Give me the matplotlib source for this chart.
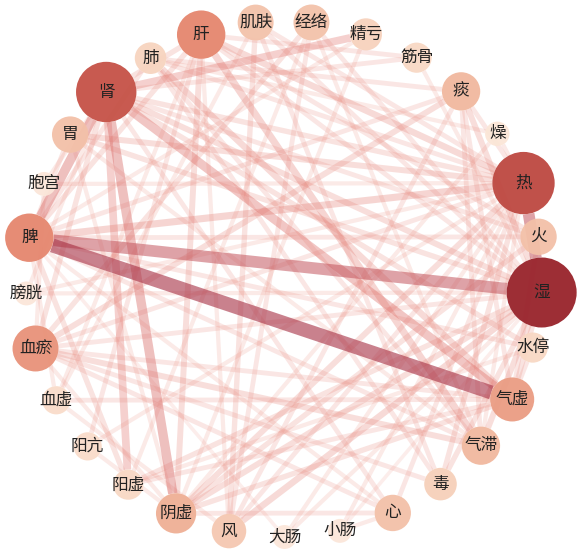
import numpy as np
import matplotlib.pyplot as plt
from matplotlib.patches import Circle
from matplotlib.colors import LinearSegmentedColormap

plt.rcParams['font.family'] = ['Noto Sans CJK SC', 'DejaVu Sans']

# nodes in circle order (clockwise from the right)
nodes = ['湿', '水停', '气虚', '气滞', '毒', '心', '小肠', '大肠', '风', '阴虚',
         '阳虚', '阳亢', '血虚', '血瘀', '膀胱', '脾', '胞宫', '胃', '肾', '肺',
         '肝', '肌肤', '经络', '精亏', '筋骨', '痰', '燥', '热', '火']
freq = [100, 17, 46, 34, 22, 30, 4, 4, 26, 38,
        17, 13, 13, 50, 4, 55, 4, 30, 80, 20,
        55, 29, 29, 21, 17, 34, 5, 84, 30]

# co-occurrence edges (source, target, weight)
edges = [
    ('脾', '气虚', 10), ('脾', '湿', 8), ('热', '湿', 8), ('肾', '阴虚', 6),
    ('肾', '脾', 6), ('肾', '气虚', 5.5), ('肾', '精亏', 4.5), ('肾', '阳虚', 4.5),
    ('脾', '热', 4), ('肝', '气滞', 4), ('风', '湿', 3.5), ('肝', '热', 3.5),
    ('胃', '热', 3), ('肺', '气虚', 3.5), ('肝', '阴虚', 3), ('湿', '气滞', 3),
    ('湿', '阴虚', 3), ('痰', '湿', 3), ('痰', '血瘀', 3), ('血瘀', '气滞', 3),
    ('热', '阴虚', 3), ('湿', '阳虚', 2.5), ('胃', '湿', 2.5), ('肾', '湿', 3),
    ('肾', '热', 2.5), ('肾', '血瘀', 2.5), ('脾', '阳虚', 2.5), ('血瘀', '气虚', 2),
    ('肝', '脾', 2.5), ('肝', '肾', 2.5), ('肺', '脾', 2), ('肺', '热', 2),
    ('肺', '痰', 2), ('痰', '热', 2), ('痰', '脾', 2), ('痰', '气虚', 2),
    ('水停', '脾', 2), ('水停', '肾', 2.5), ('水停', '气虚', 2), ('毒', '热', 2.5),
    ('毒', '湿', 2.5), ('毒', '血瘀', 2), ('毒', '肺', 2), ('心', '肾', 2),
    ('心', '脾', 1.5), ('心', '热', 2), ('心', '血瘀', 2), ('心', '阴虚', 2),
    ('气滞', '脾', 2), ('气滞', '痰', 2), ('气滞', '肺', 2), ('气虚', '阴虚', 2.5),
    ('气虚', '阳虚', 2), ('气虚', '血虚', 2), ('气虚', '火', 2), ('火', '阴虚', 2.5),
    ('火', '肾', 2), ('火', '脾', 2), ('火', '肝', 2), ('燥', '热', 1.5),
    ('燥', '肺', 1.5), ('燥', '阴虚', 1.5), ('筋骨', '肾', 2), ('筋骨', '肝', 2),
    ('筋骨', '湿', 1.5), ('经络', '血瘀', 2.5), ('经络', '湿', 2), ('经络', '风', 2),
    ('经络', '阳虚', 1.5), ('经络', '气滞', 1.5), ('肌肤', '湿', 2), ('肌肤', '热', 2),
    ('肌肤', '风', 2.5), ('肌肤', '毒', 2), ('肌肤', '血虚', 1.5), ('精亏', '阴虚', 1.5),
    ('精亏', '脾', 1.5), ('胃', '脾', 2), ('胃', '气滞', 1.5), ('胃', '阴虚', 1.5),
    ('胞宫', '肾', 1.5), ('胞宫', '血瘀', 1.5), ('胞宫', '热', 1.5), ('膀胱', '湿', 1.5),
    ('膀胱', '热', 1.5), ('膀胱', '肾', 1.5), ('血虚', '肝', 1.5), ('血虚', '脾', 1.5),
    ('血虚', '风', 1.5), ('阳亢', '肝', 2), ('阳亢', '阴虚', 1.5), ('阳亢', '热', 1.5),
    ('阳虚', '水停', 1.5), ('阴虚', '血瘀', 1.5), ('风', '热', 2), ('风', '痰', 2),
    ('风', '肝', 1.5), ('大肠', '湿', 1.5), ('大肠', '热', 1.5), ('大肠', '脾', 1),
    ('小肠', '热', 1.5), ('小肠', '心', 1.5), ('小肠', '湿', 1), ('湿', '血瘀', 2),
    ('湿', '肝', 2), ('湿', '气虚', 2.5), ('热', '血瘀', 2), ('热', '气滞', 1.5),
]

W, H = 577, 551
cx, cy, R = 284, 279, 258
n = len(nodes)
ang = np.deg2rad(-3 - np.arange(n) * 360 / n)
xs = cx + R * np.cos(ang)
ys = cy - R * np.sin(ang)
pos = {nm: (xs[i], ys[i]) for i, nm in enumerate(nodes)}
fv = dict(zip(nodes, freq))
rad = {nm: 11 + 0.24 * fv[nm] for nm in nodes}

node_cmap = LinearSegmentedColormap.from_list('nodes', [
    (0.0, '#fcebdf'), (0.2, '#f7d4bf'), (0.35, '#f1b69c'),
    (0.55, '#e5866e'), (0.82, '#c24d43'), (1.0, '#98222a')])
edge_cmap = LinearSegmentedColormap.from_list('edges', ['#ee9a8c', '#de706a', '#a83448'])

fig = plt.figure(figsize=(W / 100, H / 100), dpi=100)
ax = fig.add_axes([0, 0, 1, 1])
ax.set_xlim(0, W)
ax.set_ylim(H, 0)
ax.axis('off')

for a, b, w in sorted(edges, key=lambda e: e[2]):
    x1, y1 = pos[a]
    x2, y2 = pos[b]
    d = np.hypot(x2 - x1, y2 - y1)
    ux, uy = (x2 - x1) / d, (y2 - y1) / d
    t = (w - 1) / 9
    ax.plot([x1 + ux * rad[a], x2 - ux * rad[b]], [y1 + uy * rad[a], y2 - uy * rad[b]],
            color=edge_cmap(t), alpha=0.17 + 0.45 * t,
            lw=(2.5 + 1.15 * w) * 0.72, solid_capstyle='butt', zorder=1)

for nm in nodes:
    ax.add_patch(Circle(pos[nm], rad[nm], facecolor=node_cmap(fv[nm] / 100),
                        edgecolor='none', alpha=0.95, zorder=2))
    ax.text(pos[nm][0], pos[nm][1], nm, ha='center', va='center',
            fontsize=12, color='#222222', zorder=3)

fig.savefig('out.png', dpi=100)
